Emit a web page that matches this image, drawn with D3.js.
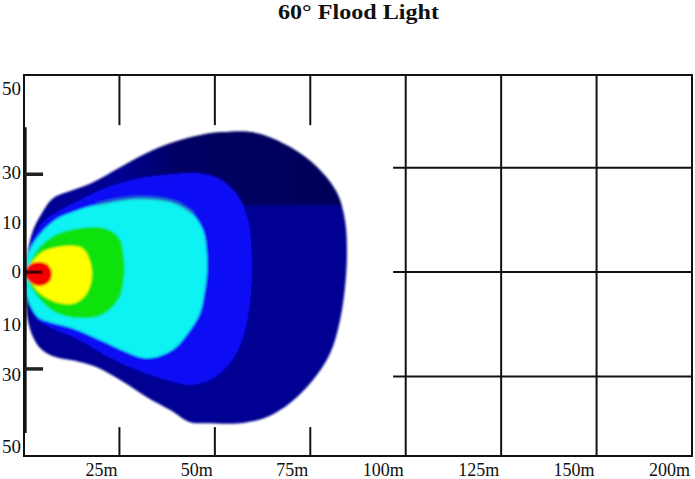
<!DOCTYPE html>
<html>
<head>
<meta charset="utf-8">
<script src="https://cdn.jsdelivr.net/npm/d3@7"></script>
<style>
  body { margin: 0; background: #fff; }
  text { font-family: "Liberation Serif", "DejaVu Serif", serif; fill: #111; }
</style>
</head>
<body>
<div id="chart"></div>
<script>
// axis ticks (distance in m, lateral offset in m)
const xTicks = [25, 50, 75, 100, 125, 150, 175];
const xTickLabels = ["25m", "50m", "75m", "100m", "125m", "150m", "200m"];
const yTicks = [52.5, 28.4, 14.1, 0, -15.2, -29.6, -50.2];
const yTickLabels = ["50", "30", "10", "0", "10", "30", "50"];
const gridLat = [30, 0, -30];
const innerTicks = [28.1, -27.8];

// iso-lux outlines, [distance, lateral]
const zoneOuter = [
  [0, 0], [0.8, 4.9], [2.2, 11.5], [4.4, 16.4], [7.6, 21.2], [12.1, 23.3], [16.5, 25.0],
  [20.7, 27.3], [25.2, 30.1], [32.2, 34.2], [38.3, 37.0], [46.1, 39.3], [52.1, 40.2],
  [61.0, 39.9], [69.7, 35.9], [76.8, 30.1], [82.0, 22.7], [84.1, 14.9], [84.6, 5.5],
  [84.1, -4.3], [82.8, -13.8], [80.2, -23.3], [75.7, -31.0], [69.7, -37.6], [63.7, -41.6],
  [56.6, -43.4], [47.9, -43.4], [43.5, -43.1], [38.3, -39.6], [32.2, -35.9], [25.2, -31.0],
  [19.1, -27.3], [12.6, -25.3], [9.4, -24.7], [6.8, -23.8], [4.2, -21.8], [2.4, -18.7],
  [1.0, -13.8], [0.5, -8.0]
];
const zoneDark = [[24, 48], [90, 48], [90, 19.2], [24, 19.2]];
const zoneBlue = [
  [0.3, 0], [1.6, 7.5], [3.1, 11.5], [5.5, 14.9], [9.4, 17.8], [14.7, 20.7], [19.9, 23.5],
  [27.8, 26.4], [38.3, 28.1], [46.1, 28.4], [51.3, 26.7], [55.3, 23.0], [57.9, 17.8],
  [59.2, 12.1], [59.7, 0.6], [59.2, -8.9], [57.4, -18.7], [54.0, -26.1], [48.7, -31.0],
  [43.5, -32.4], [38.3, -31.3], [29.6, -28.1], [21.5, -24.0], [14.0, -19.2], [7.0, -16.0],
  [3.7, -14.0], [1.6, -9.8], [0.5, -5.2]
];
const zoneCyan = [
  [0.3, 0], [1.0, 4.9], [2.4, 8.3], [4.7, 11.5], [6.5, 13.5], [9.4, 15.8], [12.6, 17.2],
  [17.3, 18.9], [21.2, 19.8], [27.8, 21.0], [33.5, 21.0], [39.6, 19.8], [44.0, 16.9],
  [46.9, 12.1], [47.9, 5.5], [47.9, -0.9], [47.4, -5.2], [46.1, -11.8], [43.5, -16.7],
  [39.6, -21.8], [35.6, -24.1], [31.7, -24.7], [25.7, -22.4], [19.9, -19.5], [12.6, -16.1],
  [6.8, -14.4], [3.9, -13.2], [1.6, -9.5], [0.5, -5.2]
];
const cyanRim = [[19.5, 19.6], [27.8, 21.2], [33.5, 21.2], [39.6, 20.0], [44.0, 17.1]];
const zoneGreen = [
  [1.0, 0], [1.3, 2.0], [3.9, 6.9], [8.1, 10.6], [14.4, 12.6], [21.2, 12.6], [24.9, 9.8],
  [26.2, 4.0], [26.2, -1.7], [24.9, -7.5], [20.4, -12.3], [14.4, -13.2], [8.1, -11.5],
  [3.9, -7.5], [1.3, -2.9]
];
const zoneYellow = [
  [1.0, 1.1], [2.1, 2.9], [4.7, 5.7], [6.5, 6.6], [11.8, 7.5], [15.2, 6.9], [17.0, 4.0],
  [17.8, -0.9], [16.5, -6.0], [13.4, -8.9], [9.2, -8.9], [4.7, -6.6], [2.1, -3.4], [1.0, -1.4]
];
const zoneRed = [
  [0.3, 0.6], [1.3, 2.0], [3.4, 2.9], [6.0, 2.3], [7.3, -0.3], [6.5, -2.9], [3.9, -4.0],
  [1.3, -2.6], [0.3, -1.1]
];

const W = 695, H = 479;
const margin = { top: 75, right: 3, bottom: 23, left: 24 };

const svg = d3.select("#chart").append("svg")
  .attr("width", W).attr("height", H);

const x = d3.scaleLinear().domain([0, 175]).range([margin.left, W - margin.right]);
const y = d3.scaleLinear().domain([-52.8, 56.6]).range([H - margin.bottom, margin.top]);

// extents of the pasted beam picture (it hides the grid underneath)
const panelX = 96.7, panelTop = 42.2, panelBottom = -44.5;

// grid
const grid = svg.append("g").attr("stroke", "#111").attr("stroke-width", 2);
xTicks.forEach(t => {
  if (t < panelX) {
    grid.append("line").attr("x1", x(t)).attr("x2", x(t)).attr("y1", y.range()[1]).attr("y2", y(panelTop));
    grid.append("line").attr("x1", x(t)).attr("x2", x(t)).attr("y1", y(panelBottom)).attr("y2", y.range()[0]);
  } else {
    grid.append("line").attr("x1", x(t)).attr("x2", x(t)).attr("y1", y.range()[1]).attr("y2", y.range()[0]);
  }
});
gridLat.forEach(v => {
  grid.append("line").attr("x1", x(panelX)).attr("x2", x.range()[1]).attr("y1", y(v)).attr("y2", y(v));
});

// beam pattern
const defs = svg.append("defs");
defs.append("filter").attr("id", "soft")
  .append("feGaussianBlur").attr("stdDeviation", 0.9);
const fade = defs.append("linearGradient").attr("id", "fade")
  .attr("x1", 0).attr("x2", 1).attr("y1", 0).attr("y2", 0);
fade.append("stop").attr("offset", 0).attr("stop-color", "#000058").attr("stop-opacity", 0);
fade.append("stop").attr("offset", 0.25).attr("stop-color", "#000058").attr("stop-opacity", 0.8);
fade.append("stop").attr("offset", 1).attr("stop-color", "#000058").attr("stop-opacity", 1);

const line = d3.line()
  .x(d => x(d[0])).y(d => y(d[1]))
  .curve(d3.curveCatmullRomClosed.alpha(0.5));

defs.append("clipPath").attr("id", "outerClip")
  .append("path").attr("d", line(zoneOuter));

const beam = svg.append("g").attr("filter", "url(#soft)");
beam.append("path").attr("d", line(zoneOuter)).attr("fill", "#000092");
beam.append("path").attr("d", d3.line().x(d => x(d[0])).y(d => y(d[1]))(zoneDark) + "Z")
  .attr("fill", "url(#fade)").attr("clip-path", "url(#outerClip)");

const zones = [
  { pts: zoneBlue, color: "#0c0cf5" },
  { pts: zoneCyan, color: "#0ff2f2" },
  { pts: zoneGreen, color: "#0ae20a" },
  { pts: zoneYellow, color: "#ffff00" },
  { pts: zoneRed, color: "#f20000" }
];
beam.selectAll(".zone").data(zones).enter().append("path")
  .attr("class", "zone")
  .attr("d", d => line(d.pts))
  .attr("fill", d => d.color);

beam.append("path")
  .attr("d", d3.line().x(d => x(d[0])).y(d => y(d[1])).curve(d3.curveCatmullRom)(cyanRim))
  .attr("fill", "none").attr("stroke", "#2a9fb5").attr("stroke-width", 4)
  .attr("stroke-linecap", "round").attr("opacity", 0.55);

// inner axis of the beam picture
svg.append("line")
  .attr("x1", x(0.3)).attr("x2", x(0.3))
  .attr("y1", y(41.6)).attr("y2", y(-46.2))
  .attr("stroke", "#111").attr("stroke-width", 3);
svg.selectAll(".itick").data(innerTicks).enter().append("line")
  .attr("class", "itick")
  .attr("x1", x(0)).attr("x2", x(5))
  .attr("y1", d => y(d)).attr("y2", d => y(d))
  .attr("stroke", "#222").attr("stroke-width", 3.5);
svg.append("line")
  .attr("x1", x(0)).attr("x2", x(4.8))
  .attr("y1", y(0)).attr("y2", y(0))
  .attr("stroke", "#200").attr("stroke-width", 3).attr("opacity", 0.85);

// frame
svg.append("rect")
  .attr("x", x(0)).attr("y", y.range()[1])
  .attr("width", x.range()[1] - x(0)).attr("height", y.range()[0] - y.range()[1])
  .attr("fill", "none").attr("stroke", "#111").attr("stroke-width", 2);

// labels
svg.selectAll(".xl").data(xTicks).enter().append("text")
  .attr("class", "xl")
  .attr("x", d => x(d) - 2).attr("y", H - 3)
  .attr("text-anchor", "end").attr("font-size", 18)
  .text((d, i) => xTickLabels[i]);

svg.selectAll(".yl").data(yTicks).enter().append("text")
  .attr("class", "yl")
  .attr("x", margin.left - 3).attr("y", d => y(d) + 6)
  .attr("text-anchor", "end").attr("font-size", 19)
  .text((d, i) => yTickLabels[i]);

svg.append("text")
  .attr("x", 278).attr("y", 19)
  .attr("font-size", 21).attr("font-weight", "bold")
  .attr("textLength", 161).attr("lengthAdjust", "spacingAndGlyphs")
  .text("60° Flood Light");
</script>
</body>
</html>
